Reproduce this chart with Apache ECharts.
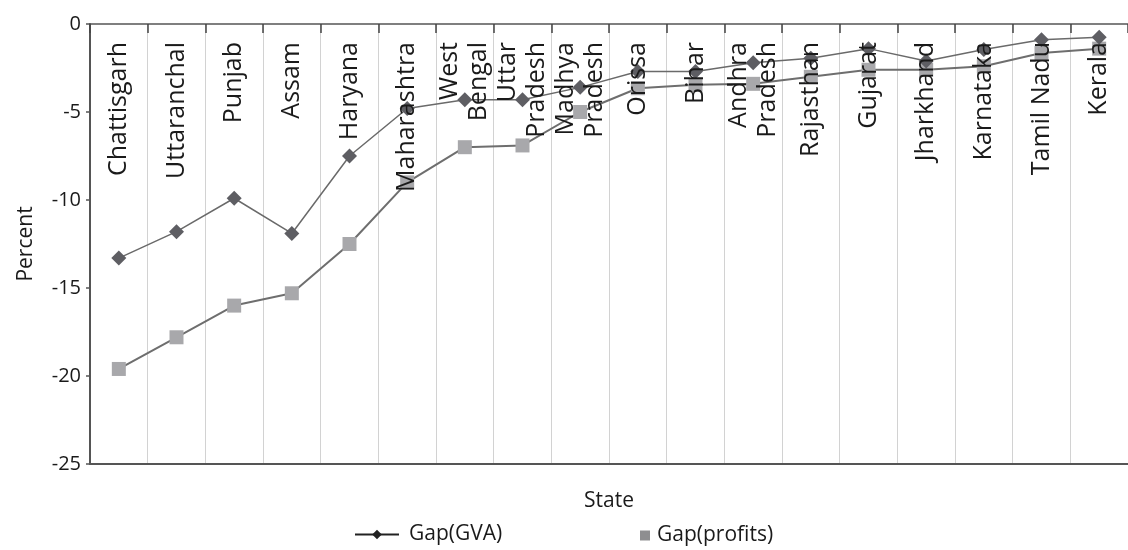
<!DOCTYPE html>
<html>
<head>
<meta charset="utf-8">
<script src="https://cdn.jsdelivr.net/npm/echarts@6/dist/echarts.min.js"></script>
<style>
html,body{margin:0;padding:0;background:#fff;}
#chart{width:1128px;height:550px;}
</style>
</head>
<body>
<div id="chart"></div>
<script>
const states = ['Chattisgarh','Uttaranchal','Punjab','Assam','Haryana','Maharashtra','West\nBengal','Uttar\nPradesh','Madhya\nPradesh','Orissa','Bihar','Andhra\nPradesh','Rajasthan','Gujarat','Jharkhand','Karnataka','Tamil Nadu','Kerala'];
const gapGVA = [-13.3,-11.8,-9.9,-11.9,-7.5,-4.8,-4.3,-4.3,-3.6,-2.7,-2.7,-2.2,-1.95,-1.4,-2.1,-1.45,-0.9,-0.75];
const gapProfits = [-19.6,-17.8,-16.0,-15.3,-12.5,-9.0,-7.0,-6.9,-5.0,-3.65,-3.45,-3.4,-3.0,-2.6,-2.6,-2.4,-1.65,-1.4];
const yTicks = {min:-25, max:0, interval:5};

const chart = echarts.init(document.getElementById('chart'));
const FONT = 'Open Sans';
chart.setOption({
  animation:false,
  backgroundColor:'#ffffff',
  textStyle:{fontFamily:FONT},
  grid:{left:90, top:24, right:-15, bottom:86, containLabel:false},
  legend:[
    {data:[{name:'Gap(GVA)', itemStyle:{color:'#222'}, lineStyle:{color:'#222', width:2}}],
     left:354, top:524, padding:0, itemWidth:44, itemHeight:12,
     textStyle:{fontFamily:FONT, fontSize:21, color:'#1a1a1a', padding:[0,0,0,5]}},
    {data:[{name:'Gap(profits)', icon:'rect', itemStyle:{color:'#8e8e90'}}],
     left:640, top:525, padding:0, itemWidth:10, itemHeight:10,
     textStyle:{fontFamily:FONT, fontSize:21, color:'#1a1a1a', padding:[0,0,0,2]}}
  ],
  xAxis:[
    {type:'category', data:states, position:'top', boundaryGap:true, z:10,
     axisLine:{show:true, onZero:false, lineStyle:{color:'#555', width:1.5}},
     axisTick:{show:true, inside:true, length:9, lineStyle:{color:'#444', width:1.5}},
     axisLabel:{show:true, inside:true, rotate:-90, margin:18, interval:0,
       fontFamily:FONT, fontSize:25, lineHeight:29, color:'#1a1a1a'},
     splitLine:{show:false}},
    {type:'category', data:states, position:'bottom', boundaryGap:true, z:0,
     axisLine:{show:true, onZero:false, lineStyle:{color:'#555', width:2}},
     axisTick:{show:false}, axisLabel:{show:false},
     splitLine:{show:true, interval:0, lineStyle:{color:'#d2d2d2', width:1}},
     name:'State', nameLocation:'middle', nameGap:27,
     nameTextStyle:{fontFamily:FONT, fontSize:21, color:'#1a1a1a'}}
  ],
  yAxis:{type:'value', min:yTicks.min, max:yTicks.max, interval:yTicks.interval,
    axisLine:{show:true, lineStyle:{color:'#555', width:2}},
    axisTick:{show:true, length:4, lineStyle:{color:'#555', width:1.5}},
    axisLabel:{fontFamily:FONT, fontSize:20, color:'#1a1a1a', margin:9},
    splitLine:{show:false},
    name:'Percent', nameLocation:'middle', nameGap:53, nameRotate:90,
    nameTextStyle:{fontFamily:FONT, fontSize:21, color:'#1a1a1a'}},
  series:[
    {name:'Gap(GVA)', type:'line', data:gapGVA, xAxisIndex:0,
     symbol:'diamond', symbolSize:15, showAllSymbol:true,
     lineStyle:{color:'#6a6a6a', width:1.5},
     itemStyle:{color:'#5e5e63', borderWidth:0}, z:3},
    {name:'Gap(profits)', type:'line', data:gapProfits, xAxisIndex:0,
     symbol:'rect', symbolSize:14, showAllSymbol:true,
     lineStyle:{color:'#6e6e6e', width:2},
     itemStyle:{color:'#a8a8ab', borderWidth:0}, z:2}
  ]
});
</script>
</body>
</html>
